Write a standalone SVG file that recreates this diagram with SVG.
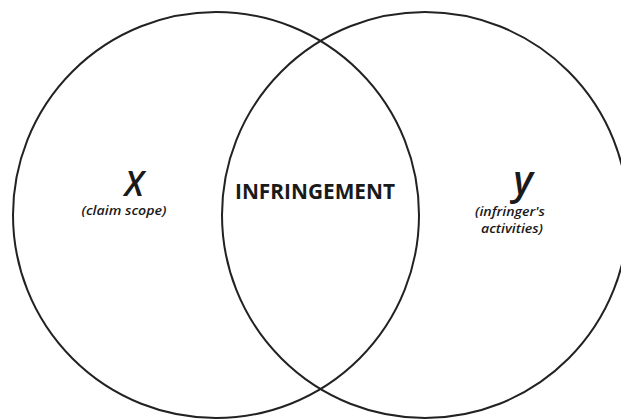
<svg xmlns="http://www.w3.org/2000/svg" width="621" height="419" viewBox="0 0 621 419">
<style>
.c{fill:none;stroke:#222;stroke-width:2}
.big{font-family:"Open Sans","Liberation Sans",sans-serif;font-style:italic;font-weight:600;fill:#1a1a1a}
.sub{font-family:"Open Sans","Liberation Sans",sans-serif;font-style:italic;font-weight:600;font-size:12px;fill:#1a1a1a}
.mid{font-family:"Open Sans","Liberation Sans",sans-serif;font-weight:700;font-size:22px;fill:#1a1a1a}
</style>
<rect width="621" height="419" fill="#fff"/>
<g id="set-x">
<circle class="c" cx="216" cy="215" r="203"/>
<text class="big" x="134" y="196" font-size="34" text-anchor="middle">X</text>
<text class="sub" x="124" y="215" text-anchor="middle" textLength="85" lengthAdjust="spacingAndGlyphs">(claim scope)</text>
</g>
<g id="set-y">
<circle class="c" cx="425" cy="215" r="203"/>
<text class="big" x="523" y="194" font-size="40" text-anchor="middle">y</text>
<text class="sub" x="510" y="216" text-anchor="middle" textLength="70" lengthAdjust="spacingAndGlyphs">(infringer's</text>
<text class="sub" x="512" y="233" text-anchor="middle" textLength="62" lengthAdjust="spacingAndGlyphs">activities)</text>
</g>
<g id="infringement">
<text class="mid" x="315" y="199" text-anchor="middle" textLength="160" lengthAdjust="spacingAndGlyphs">INFRINGEMENT</text>
</g>
<g id="connectors"/>
</svg>
